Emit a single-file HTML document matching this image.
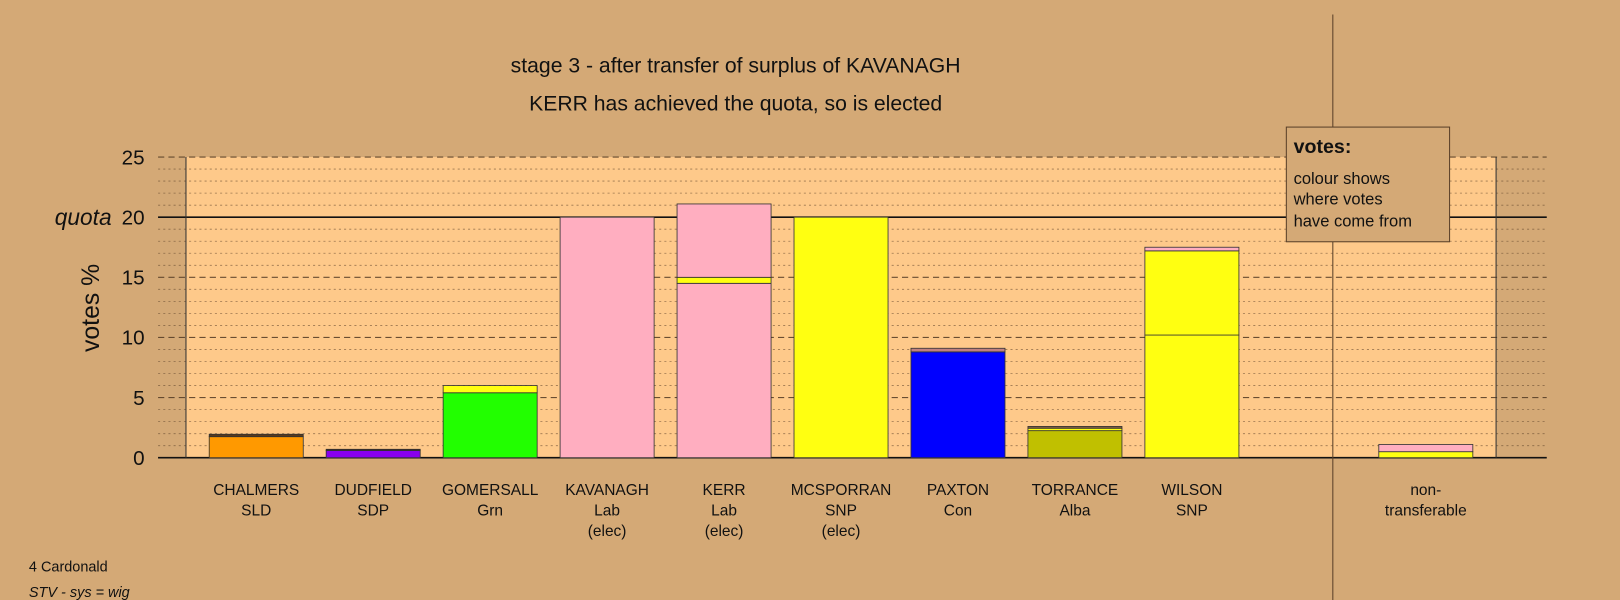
<!DOCTYPE html>
<html><head><meta charset="utf-8"><style>
body{margin:0;background:#d4a976;}
svg{display:block;font-family:"Liberation Sans",Arial,sans-serif;}
</style></head><body>
<svg width="1620" height="600">
<rect x="0" y="0" width="1620" height="600" fill="#d4a976"/>
<g transform="scale(1.0332)">
<rect x="180" y="152" width="1268" height="291" fill="#fec98a"/>
<g id="grid"></g>
<g id="bars"></g>
<g id="labels"></g>
<line x1="180" y1="152" x2="180" y2="443" stroke="#333" stroke-width="1"/>
<line x1="1448" y1="152" x2="1448" y2="443" stroke="#333" stroke-width="1"/>
<line x1="1290" y1="14" x2="1290" y2="600" stroke="#5a4028" stroke-width="1"/>
<text x="712" y="70" font-size="20.5" text-anchor="middle" fill="#111">stage 3 - after transfer of surplus of KAVANAGH</text>
<text x="712" y="107" font-size="20.5" text-anchor="middle" fill="#111">KERR has achieved the quota, so is elected</text>
<text x="96" y="298" font-size="24" text-anchor="middle" fill="#111" transform="rotate(-90 96 298)">votes %</text>
<text x="53" y="218" font-size="22" font-style="italic" fill="#111">quota</text>
<g>
<rect x="1245" y="123" width="158" height="111" fill="#d4a976" stroke="#5a4028" stroke-width="1"/>
<text x="1252" y="148" font-size="19" font-weight="bold" fill="#111">votes:</text>
<text x="1252" y="178" font-size="16" fill="#111">colour shows</text>
<text x="1252" y="198" font-size="16" fill="#111">where votes</text>
<text x="1252" y="219" font-size="16" fill="#111">have come from</text>
</g>
<text x="28" y="553" font-size="14" fill="#111">4 Cardonald</text>
<text x="28" y="578" font-size="14" font-style="italic" fill="#111">STV - sys = wig</text>
</g>
</svg>
<script>
const categories = [["CHALMERS","SLD"],["DUDFIELD","SDP"],["GOMERSALL","Grn"],["KAVANAGH","Lab","(elec)"],["KERR","Lab","(elec)"],["MCSPORRAN","SNP","(elec)"],["PAXTON","Con"],["TORRANCE","Alba"],["WILSON","SNP"],null,["non-","transferable"]];
const segValues = [[1.75,0.2],[0.6,0.1],[5.4,0.6],[20],[14.5,0.5,6.1],[20],[8.8,0.3],[2.25,0.2,0.15],[10.2,7.0,0.3],[],[0.5,0.6]];
const segColors = [["#ff9900","#5a3a1a"],["#8800ee","#3a2020"],["#22ff00","#ffff11"],["#ffaec0"],["#ffaec0","#ffff11","#ffaec0"],["#ffff11"],["#0000ff","#c08080"],["#c0c000","#ffff11","#8a6040"],["#ffff11","#ffff11","#ffaec0"],[],["#ffff11","#ffaec0"]];
const yTicks = [0,5,10,15,20,25];
const quota = 20;
const NS="http://www.w3.org/2000/svg";
const y0=443, pxPer=(443-152)/25;
const ys=v=>y0-v*pxPer;
const xc=i=>248+i*113.2;
const bw=91;
function mk(tag,attrs,parent){const e=document.createElementNS(NS,tag);for(const k in attrs)e.setAttribute(k,attrs[k]);parent.appendChild(e);return e;}
const grid=document.getElementById('grid');
for(let v=0;v<=25;v++){
  const l=mk('line',{x1:153,x2:1497,y1:ys(v),y2:ys(v),stroke:'#5a4028','stroke-width':v%5===0?1:0.8,'stroke-dasharray':v%5===0?'6,4':'2,3',opacity:v%5===0?0.9:0.6},grid);
  
  
}
const base=mk('line',{x1:153,x2:1497,y1:y0,y2:y0,stroke:'#111','stroke-width':1.5},grid);


const ql=mk('line',{x1:153,x2:1497,y1:ys(quota),y2:ys(quota),stroke:'#111','stroke-width':1.5},grid);


yTicks.forEach(t=>{
  const tx=mk('text',{x:140,y:ys(t)+7,'font-size':20,'text-anchor':'end',fill:'#111'},grid);
  tx.textContent=t;
  
  
});
const bars=document.getElementById('bars');
const labels=document.getElementById('labels');
categories.forEach((c,i)=>{
  if(!c)return;
  let acc=0;
  segValues[i].forEach((v,j)=>{
    const r=mk('rect',{x:xc(i)-bw/2,y:ys(acc+v),width:bw,height:v*pxPer,fill:segColors[i][j],stroke:'#333','stroke-width':0.8},bars);
    
    
    acc+=v;
  });
  c.forEach((line,k)=>{
    const t=mk('text',{x:xc(i),y:479+k*20,'font-size':15,'text-anchor':'middle',fill:'#111'},labels);
    t.textContent=line;
    
    
  });
});
</script>
</body></html>
